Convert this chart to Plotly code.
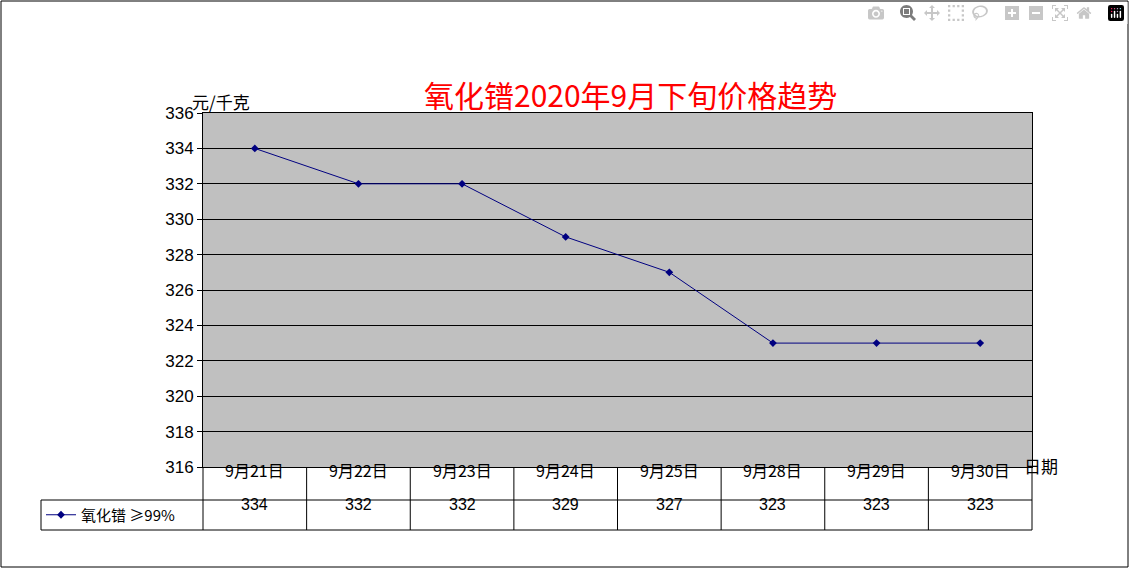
import plotly.graph_objects as go

categories = ["9月21日", "9月22日", "9月23日", "9月24日", "9月25日", "9月28日", "9月29日", "9月30日"]
prices = [334, 332, 332, 329, 327, 323, 323, 323]
series_name = "氧化镨 ≥99%"
y_ticks = list(range(316, 337, 2))

W, H = 1130, 569
L, R, T, B = 203, 1032, 113, 467
pw, ph = R - L, B - T
def px(x): return (x - L) / pw
def py(y): return (B - y) / ph

cjk = "Noto Sans CJK SC"
fig = go.Figure()
xs = list(range(len(categories)))
fig.add_trace(go.Scatter(x=xs, y=prices, mode="lines+markers", name=series_name,
    line=dict(color="#000080", width=1), marker=dict(symbol="diamond", size=6, color="#000080")))

shapes = []
ln = dict(color="black", width=1)
shapes.append(dict(type="rect", xref="paper", yref="paper", x0=px(1), x1=px(W-2), y0=py(H-2), y1=py(1), line=ln))
r1, r2 = py(500), py(530)
shapes.append(dict(type="line", xref="paper", yref="paper", x0=0, x1=1, y0=r1, y1=r1, line=ln))
shapes.append(dict(type="line", xref="paper", yref="paper", x0=px(41), x1=1, y0=r2, y1=r2, line=ln))
shapes.append(dict(type="line", xref="paper", yref="paper", x0=px(41), x1=0, y0=r1, y1=r1, line=ln))
shapes.append(dict(type="line", xref="paper", yref="paper", x0=px(41), x1=px(41), y0=r1, y1=r2, line=ln))
for xx in [0, 1]:
    shapes.append(dict(type="line", xref="paper", yref="paper", x0=xx, x1=xx, y0=r2, y1=0, line=ln))
for i in range(len(categories) - 1):
    shapes.append(dict(type="line", xref="x", yref="paper", x0=i+0.5, x1=i+0.5, y0=r2, y1=0, line=ln))

ann = []
for i, c in enumerate(categories):
    ann.append(dict(x=i, y=(0 + r1) / 2, xref="x", yref="paper", text=c, showarrow=False,
                    font=dict(family=cjk, size=16, color="black")))
    ann.append(dict(x=i, y=(r1 + r2) / 2, xref="x", yref="paper", text=str(prices[i]), showarrow=False,
                    font=dict(family="Liberation Sans", size=16, color="black")))
ann.append(dict(x=px(630), y=py(70), xref="paper", yref="paper", text="氧化镨2020年9月下旬价格趋势",
                showarrow=False, font=dict(family=cjk, size=30, color="red")))
ann.append(dict(x=px(190), y=py(87), xref="paper", yref="paper", text="元/千克",
                showarrow=False, font=dict(family=cjk, size=17, color="black")))
ann.append(dict(x=px(1060), y=py(480), xref="paper", yref="paper", text="日期",
                showarrow=False, font=dict(family=cjk, size=17, color="black")))

fig.update_layout(
    width=W, height=H, margin=dict(l=L, r=W-R, t=T, b=H-B),
    paper_bgcolor="white", plot_bgcolor="#c0c0c0",
    xaxis=dict(range=[-0.5, len(categories)-0.5], showticklabels=False, showgrid=False, zeroline=False,
               showline=True, linecolor="black", mirror=True),
    yaxis=dict(range=[316, 336], tickvals=y_ticks, showgrid=True, gridcolor="black", gridwidth=1,
               zeroline=False, showline=True, linecolor="black", mirror=True, ticks="outside",
               ticklen=5, tickcolor="black", tickfont=dict(family="Liberation Sans", size=17, color="black")),
    showlegend=True,
    legend=dict(x=px(41), y=(r1+r2)/2, xanchor="left", yanchor="middle", bgcolor="rgba(0,0,0,0)",
                font=dict(family=cjk, size=15, color="black"), itemwidth=30),
    shapes=shapes, annotations=ann,
)
fig.write_html("out.html", post_script="document.body.style.margin='0';document.body.style.overflow='hidden';")
